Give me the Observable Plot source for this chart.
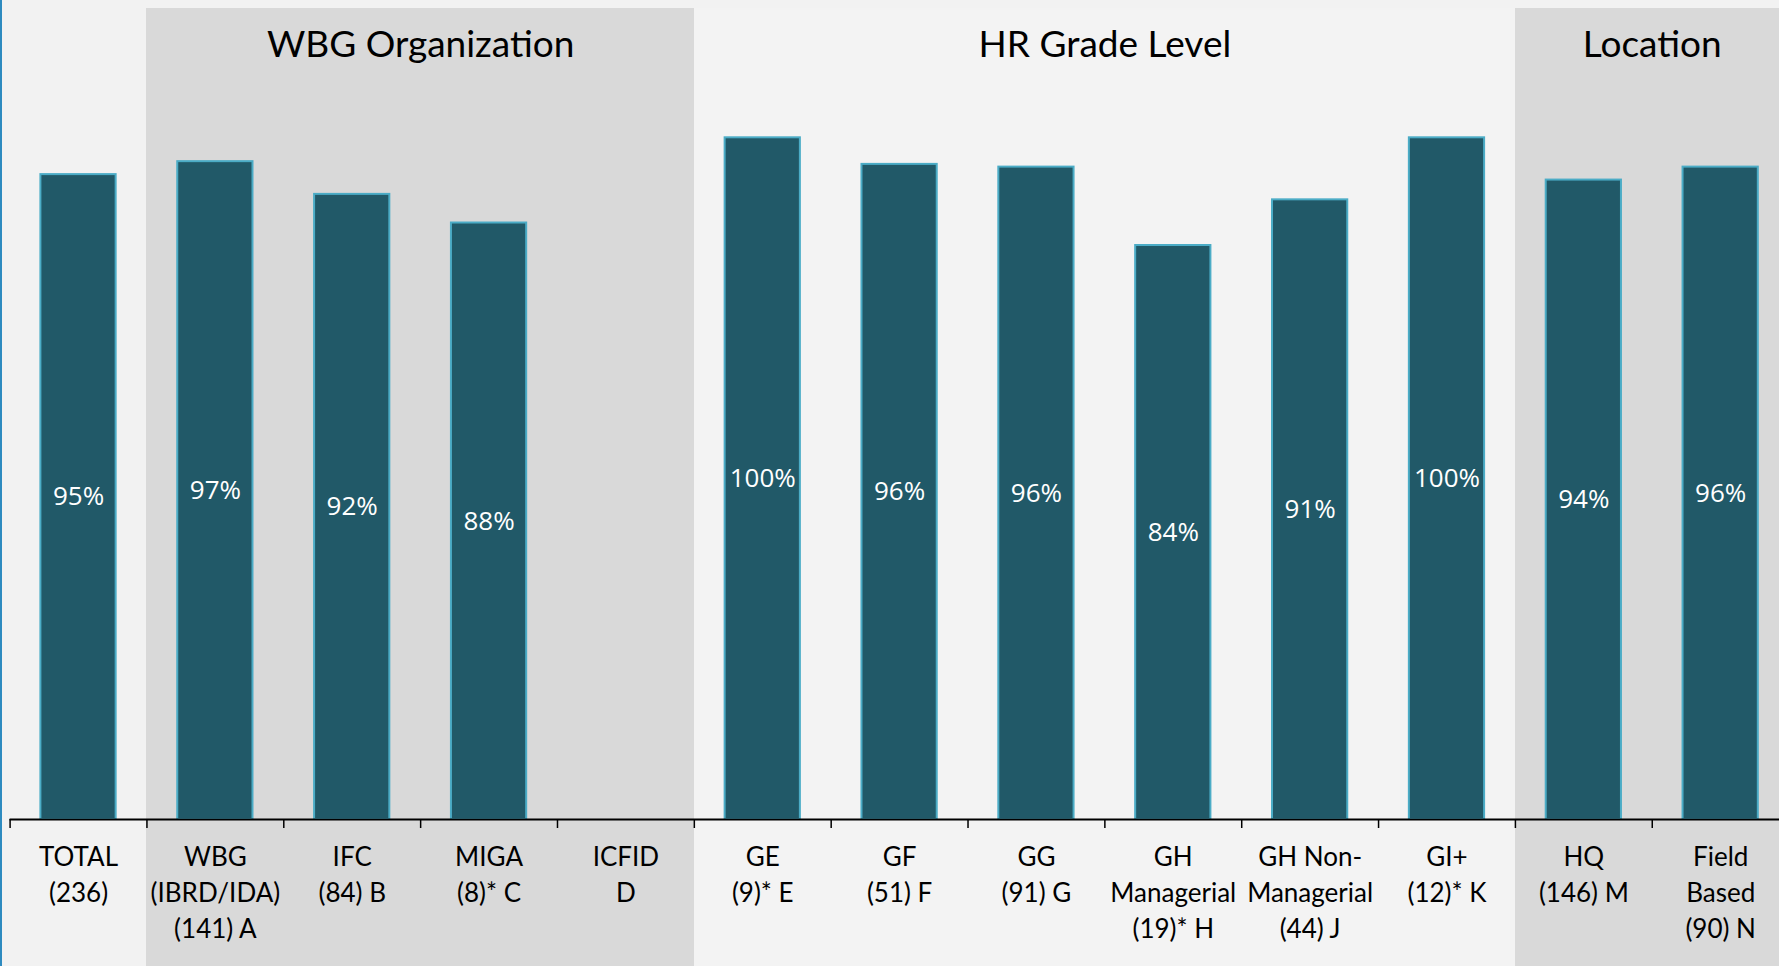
<!DOCTYPE html>
<html>
<head>
<meta charset="utf-8">
<script src="https://cdn.jsdelivr.net/npm/d3@7"></script>
<script src="https://cdn.jsdelivr.net/npm/@observablehq/plot@0.6"></script>
<style>
  html, body { margin: 0; padding: 0; background: #f2f2f2; overflow: hidden; }
  #chart { position: relative; width: 1779px; height: 966px; }
  #chart svg { display: block; background: #f2f2f2; }
  #edge { position: absolute; left: 0; top: 0; width: 2px; height: 966px; background: #2e8bc0; }
</style>
</head>
<body>
<div id="chart"><div id="edge"></div></div>
<script>
// ---- data ----
const categories = ["TOTAL", "WBG", "IFC", "MIGA", "ICFID", "GE", "GF", "GG", "GH Managerial", "GH Non-Managerial", "GI+", "HQ", "Field Based"];
const categoryLabels = [
  "TOTAL\n(236)",
  "WBG\n(IBRD/IDA)\n(141) A",
  "IFC\n(84) B",
  "MIGA\n(8)* C",
  "ICFID\nD",
  "GE\n(9)* E",
  "GF\n(51) F",
  "GG\n(91) G",
  "GH\nManagerial\n(19)* H",
  "GH Non-\nManagerial\n(44) J",
  "GI+\n(12)* K",
  "HQ\n(146) M",
  "Field\nBased\n(90) N"
];
const values = [94.6, 96.5, 91.7, 87.5, null, 100, 96.1, 95.7, 84.2, 90.9, 100, 93.8, 95.7];
const groupOf = ["none", "org", "org", "org", "org", "grade", "grade", "grade", "grade", "grade", "grade", "loc", "loc"];
const groupNames = ["WBG Organization", "HR Grade Level", "Location"];
const groupKeys = ["org", "grade", "loc"];

// ---- layout ----
const W = 1779, H = 966;
const x0 = 9.6, x1 = 1788.6;
const step = (x1 - x0) / categories.length;

const rows = categories.map((c, i) => ({cat: c, label: categoryLabels[i], value: values[i], group: groupOf[i]}));
const bars = rows.filter(d => d.value != null);
const groups = groupKeys.map((k, gi) => {
  const members = rows.filter(d => d.group === k);
  return {name: groupNames[gi], first: members[0].cat, count: members.length};
});
const bgFill = {none: "#f2f2f2", org: "#d9d9d9", grade: "#f3f3f3", loc: "#d9d9d9"};

const chart = Plot.plot({
  width: W,
  height: H,
  marginTop: 8,
  marginBottom: 0,
  marginLeft: x0,
  marginRight: 0,
  style: {background: "#f2f2f2", overflow: "visible"},
  x: {type: "band", domain: categories, range: [x0, x1], padding: 0, round: false, axis: null},
  y: {domain: [0, 100], range: [819, 137.3], axis: null},
  marks: [
    // group background panels
    Plot.barY(rows, {x: "cat", y1: -100, y2: 200, fill: d => bgFill[d.group], clip: true, shapeRendering: "crispEdges"}),
    // bars
    Plot.barY(bars, {x: "cat", y: "value", fill: "#215968", stroke: "#4bacc6", strokeWidth: 2, insetLeft: 30.8, insetRight: 30.8}),
    // value labels
    Plot.text(bars, {x: "cat", y: d => d.value / 2, text: d => Math.round(d.value) + "%", fill: "white", fontSize: 26, fontFamily: "Open Sans", lineAnchor: "middle"}),
    // baseline
    Plot.ruleY([0], {stroke: "#000", strokeWidth: 2}),
    // ticks at category boundaries
    Plot.ruleX(rows, {x: "cat", dx: -step / 2, y1: 0, y2: 0, insetBottom: -9, stroke: "#000", strokeWidth: 1.5}),
    // category labels
    Plot.text(rows, {x: "cat", y: 0, text: "label", lineAnchor: "top", dy: 21, fontSize: 26, lineHeight: 1.377, fontFamily: "Lato", fill: "#000"}),
    // group titles
    ...groups.map(g => Plot.text([g], {x: "first", dx: (g.count - 1) * step / 2, frameAnchor: "top", dy: 37, lineAnchor: "middle", text: "name", fontSize: 37, fontFamily: "Lato", fill: "#000"}))
  ]
});
document.getElementById("chart").prepend(chart);
</script>
</body>
</html>
